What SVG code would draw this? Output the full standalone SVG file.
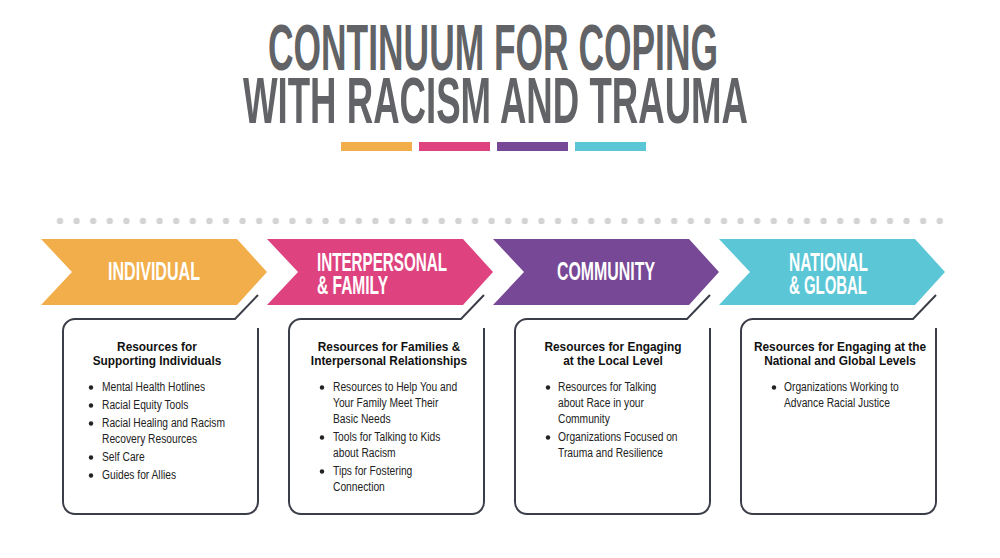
<svg xmlns="http://www.w3.org/2000/svg" width="1000" height="558" viewBox="0 0 1000 558">
<defs>
<style>
.title{font-family:"Liberation Sans",Arial,sans-serif;font-weight:bold;font-size:64px;fill:#616366}
.lbl{font-family:"Liberation Sans",Arial,sans-serif;font-weight:bold;font-size:25px;fill:#ffffff}
.hd{font-family:"Liberation Sans",Arial,sans-serif;font-weight:bold;font-size:12.5px;fill:#111111;text-anchor:middle}
.it{font-family:"Liberation Sans",Arial,sans-serif;font-size:12.5px;fill:#222222}
.box{fill:none;stroke:#3b3e48;stroke-width:2}
.bul{fill:#222222}
</style>
<pattern id="dots" patternUnits="userSpaceOnUse" x="51.7" y="215" width="16.6" height="12">
<circle cx="8.3" cy="6" r="3.2" fill="#d3d3d3"/>
</pattern>
</defs>
<rect width="1000" height="558" fill="#ffffff"/>

<g id="title">
<text class="title" x="268" y="69.5" textLength="450" lengthAdjust="spacingAndGlyphs">CONTINUUM FOR COPING</text>
<text class="title" x="243" y="122.5" textLength="505" lengthAdjust="spacingAndGlyphs">WITH RACISM AND TRAUMA</text>
<rect x="341" y="142" width="71" height="9" fill="#f2ae4a"/>
<rect x="419" y="142" width="71" height="9" fill="#de4380"/>
<rect x="497" y="142" width="71" height="9" fill="#774895"/>
<rect x="575" y="142" width="71" height="9" fill="#5bc6d6"/>
</g>

<g id="dotline">
<rect x="51.7" y="215" width="896.4" height="12" fill="url(#dots)"/>
</g>

<g id="individual">
<path d="M41,239 H237 L267,272 L237,305 H41 L72,272 Z" fill="#f2ae4a"/>
<text class="lbl" x="108" y="280" textLength="92" lengthAdjust="spacingAndGlyphs">INDIVIDUAL</text>
</g>
<g id="interpersonal">
<path d="M267,239 H463 L493,272 L463,305 H267 L298,272 Z" fill="#de4380"/>
<text class="lbl" x="317" y="271" textLength="130" lengthAdjust="spacingAndGlyphs">INTERPERSONAL</text>
<text class="lbl" x="317" y="294" textLength="71" lengthAdjust="spacingAndGlyphs">&amp; FAMILY</text>
</g>
<g id="community">
<path d="M493,239 H689 L719,272 L689,305 H493 L524,272 Z" fill="#774895"/>
<text class="lbl" x="557" y="280" textLength="98" lengthAdjust="spacingAndGlyphs">COMMUNITY</text>
</g>
<g id="national">
<path d="M719,239 H915 L945,272 L915,305 H719 L750,272 Z" fill="#5bc6d6"/>
<text class="lbl" x="789" y="271" textLength="79" lengthAdjust="spacingAndGlyphs">NATIONAL</text>
<text class="lbl" x="789" y="294" textLength="78" lengthAdjust="spacingAndGlyphs">&amp; GLOBAL</text>
</g>

<g id="connectors">
<path class="box" d="M258,295 L235,319 H75 A12,12 0 0 0 63,331 V502 A12,12 0 0 0 75,514 H246 A12,12 0 0 0 258,502 V328"/>
<path class="box" d="M484,295 L461,319 H301 A12,12 0 0 0 289,331 V502 A12,12 0 0 0 301,514 H472 A12,12 0 0 0 484,502 V328"/>
<path class="box" d="M710,295 L687,319 H527 A12,12 0 0 0 515,331 V502 A12,12 0 0 0 527,514 H698 A12,12 0 0 0 710,502 V328"/>
<path class="box" d="M936,295 L913,319 H753 A12,12 0 0 0 741,331 V502 A12,12 0 0 0 753,514 H924 A12,12 0 0 0 936,502 V328"/>
</g>

<g id="box-individual">
<g transform="translate(157,0) scale(0.95,1)">
<text class="hd" x="0" y="351">Resources for</text>
<text class="hd" x="0" y="365">Supporting Individuals</text>
</g>
<circle class="bul" cx="91" cy="387.5" r="2.2"/>
<circle class="bul" cx="91" cy="405.5" r="2.2"/>
<circle class="bul" cx="91" cy="423.5" r="2.2"/>
<circle class="bul" cx="91" cy="457.5" r="2.2"/>
<circle class="bul" cx="91" cy="475.5" r="2.2"/>
<g transform="translate(102,0) scale(0.82,1)">
<text class="it" x="0" y="391.5">Mental Health Hotlines</text>
<text class="it" x="0" y="409.5">Racial Equity Tools</text>
<text class="it" x="0" y="427.5">Racial Healing and Racism</text>
<text class="it" x="0" y="443.5">Recovery Resources</text>
<text class="it" x="0" y="461.5">Self Care</text>
<text class="it" x="0" y="479.5">Guides for Allies</text>
</g>
</g>

<g id="box-interpersonal">
<g transform="translate(389,0) scale(0.95,1)">
<text class="hd" x="0" y="351">Resources for Families &amp;</text>
<text class="hd" x="0" y="365">Interpersonal Relationships</text>
</g>
<circle class="bul" cx="322" cy="387.5" r="2.2"/>
<circle class="bul" cx="322" cy="437.5" r="2.2"/>
<circle class="bul" cx="322" cy="471.5" r="2.2"/>
<g transform="translate(333,0) scale(0.82,1)">
<text class="it" x="0" y="391.5">Resources to Help You and</text>
<text class="it" x="0" y="407.5">Your Family Meet Their</text>
<text class="it" x="0" y="423.5">Basic Needs</text>
<text class="it" x="0" y="441.5">Tools for Talking to Kids</text>
<text class="it" x="0" y="457.5">about Racism</text>
<text class="it" x="0" y="475.5">Tips for Fostering</text>
<text class="it" x="0" y="491.5">Connection</text>
</g>
</g>

<g id="box-community">
<g transform="translate(613,0) scale(0.95,1)">
<text class="hd" x="0" y="351">Resources for Engaging</text>
<text class="hd" x="0" y="365">at the Local Level</text>
</g>
<circle class="bul" cx="548" cy="387.5" r="2.2"/>
<circle class="bul" cx="548" cy="437.5" r="2.2"/>
<g transform="translate(558,0) scale(0.82,1)">
<text class="it" x="0" y="391.5">Resources for Talking</text>
<text class="it" x="0" y="407.5">about Race in your</text>
<text class="it" x="0" y="423.5">Community</text>
<text class="it" x="0" y="441.5">Organizations Focused on</text>
<text class="it" x="0" y="457.5">Trauma and Resilience</text>
</g>
</g>

<g id="box-national">
<g transform="translate(840,0) scale(0.95,1)">
<text class="hd" x="0" y="351">Resources for Engaging at the</text>
<text class="hd" x="0" y="365">National and Global Levels</text>
</g>
<circle class="bul" cx="774" cy="387.5" r="2.2"/>
<g transform="translate(784,0) scale(0.82,1)">
<text class="it" x="0" y="391.5">Organizations Working to</text>
<text class="it" x="0" y="407.5">Advance Racial Justice</text>
</g>
</g>
</svg>
